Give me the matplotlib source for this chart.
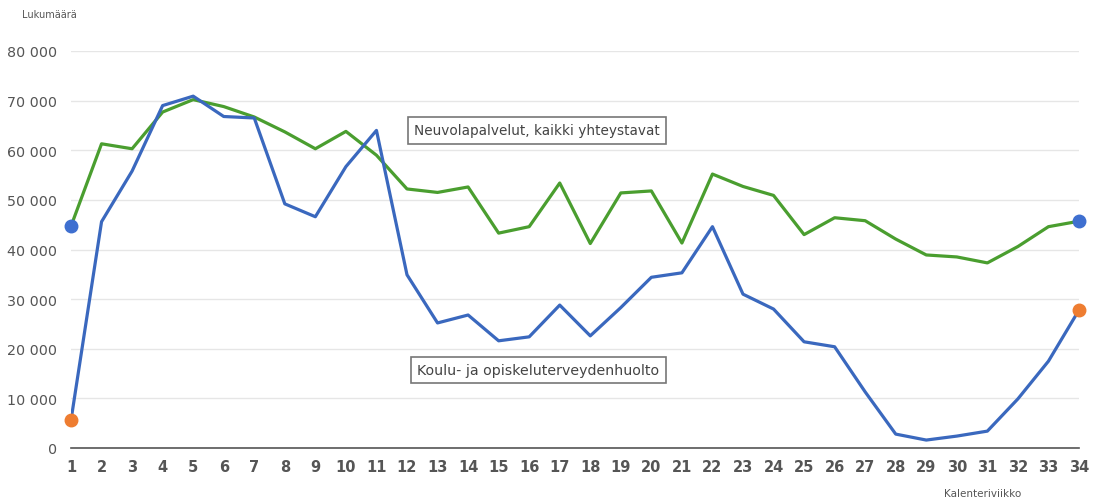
import matplotlib
matplotlib.use("Agg")
import matplotlib.pyplot as plt

weeks = list(range(1, 35))

neuvola = [44700, 61300, 60300, 67700, 70200, 68800, 66700, 63700, 60300, 63800,
           59000, 52200, 51500, 52600, 43300, 44600, 53400, 41200, 51400, 51800,
           41300, 55200, 52700, 50900, 43000, 46400, 45800, 42100, 38900, 38500,
           37300, 40600, 44600, 45700]

koulu = [5600, 45600, 55800, 69000, 70900, 66800, 66500, 49200, 46600, 56700,
         64000, 34900, 25200, 26800, 21600, 22400, 28800, 22600, 28300, 34400,
         35300, 44600, 31000, 28000, 21400, 20400, 11300, 2800, 1600, 2400,
         3400, 9900, 17500, 27800]

label_neuvola = "Neuvolapalvelut, kaikki yhteystavat"
label_koulu = "Koulu- ja opiskeluterveydenhuolto"

fig = plt.figure(figsize=(11.01, 5.02), dpi=100)
ax = fig.add_axes([71 / 1101, 1 - 449 / 502, (1079 - 71) / 1101, (449 - 52) / 502])

green = "#4a9e2f"
blue = "#3a68be"
orange = "#ee7d31"

ax.plot(weeks, neuvola, color=green, lw=2.3, zorder=3)
ax.plot(weeks, koulu, color=blue, lw=2.3, zorder=4)
# end point markers
ax.plot([weeks[0], weeks[-1]], [neuvola[0], neuvola[-1]], "o", color="#3e6fd0",
        ms=9, zorder=5, clip_on=False)
ax.plot([weeks[0], weeks[-1]], [koulu[0], koulu[-1]], "o", color=orange,
        ms=9, zorder=5, clip_on=False)

ax.set_xlim(1, 34)
ax.set_ylim(0, 80000)
ax.set_xticks(weeks)
ax.set_yticks(range(0, 80001, 10000))
ax.set_yticklabels([f"{v:,}".replace(",", " ") for v in range(0, 80001, 10000)])
ax.grid(axis="y", color="#e6e6e6", lw=1)
ax.set_axisbelow(True)
for s in ["top", "right", "left"]:
    ax.spines[s].set_visible(False)
ax.spines["bottom"].set_color("#555555")
ax.spines["bottom"].set_linewidth(1.2)
ax.tick_params(axis="both", length=0, colors="#555555")
ax.tick_params(axis="y", labelsize=10.3, pad=10)
ax.tick_params(axis="x", labelsize=10.5, pad=8)
for t in ax.get_xticklabels():
    t.set_fontweight("bold")

fig.text(22 / 1101, 1 - 15 / 502, "Lukumäärä", fontsize=7, color="#555555", va="center")
fig.text(983 / 1101, 1 - 494 / 502, "Kalenteriviikko", fontsize=7.5, color="#555555",
         ha="center", va="center")

box = dict(boxstyle="square,pad=0.45", fc="white", ec="#777777", lw=1.2)
ax.text(16.25, 64000, label_neuvola, fontsize=9.8, color="#444444",
        ha="center", va="center", bbox=box, zorder=6)
ax.text(16.3, 15700, label_koulu, fontsize=10.2, color="#444444",
        ha="center", va="center", bbox=box, zorder=6)

fig.savefig("out.png", dpi=100)
